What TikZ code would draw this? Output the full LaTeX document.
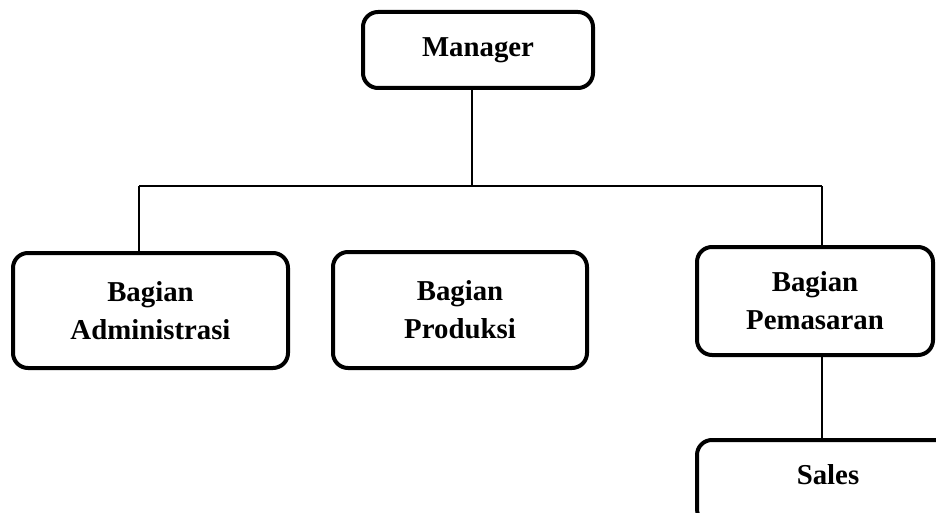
\documentclass[tikz,border=0pt]{standalone}
\usepackage{fontspec}
\setmainfont{Liberation Serif}
\usepackage{tikz}

\tikzset{
	unit/.style={draw, line width=4pt, rounded corners=15pt, align=center,
		font=\fontsize{28.8}{38}\selectfont\bfseries, inner sep=0pt},
	link/.style={line width=1.5pt}
}

\begin{document}
\begin{tikzpicture}[x=1pt, y=-1pt]
		\useasboundingbox (0,0) rectangle (936,513);
		\clip (0,0) rectangle (936,513);

		\coordinate (top) at (472, 186);
		\coordinate (le)  at (139, 186);
		\coordinate (ri)  at (822, 186);

		\node[unit, minimum width=230pt, minimum height=76pt] (mgr) at (478, 50) {Manager};

		\node[unit, minimum width=275pt, minimum height=115pt] (adm) at (150.5, 310.5) {Bagian\\Administrasi};
		\node[unit, minimum width=254pt, minimum height=116pt] (prod) at (460, 310) {Bagian\\Produksi};
		\node[unit, minimum width=236pt, minimum height=108pt] (pem) at (815, 301) {Bagian\\Pemasaran};

		\node[unit, minimum width=262pt, text height=44pt, text depth=40pt, anchor=north] (sales) at (828, 438) {Sales};

		\draw[link] (mgr.south -| top) -- (top);
		\draw[link] (le) -- (ri);

		\draw[link] (le) -- (adm.north -| le);
		\draw[link] (ri) -- (pem.north -| ri);

		\draw[link] (pem.south -| ri) -- (sales.north -| ri);
	\end{tikzpicture}
\end{document}
